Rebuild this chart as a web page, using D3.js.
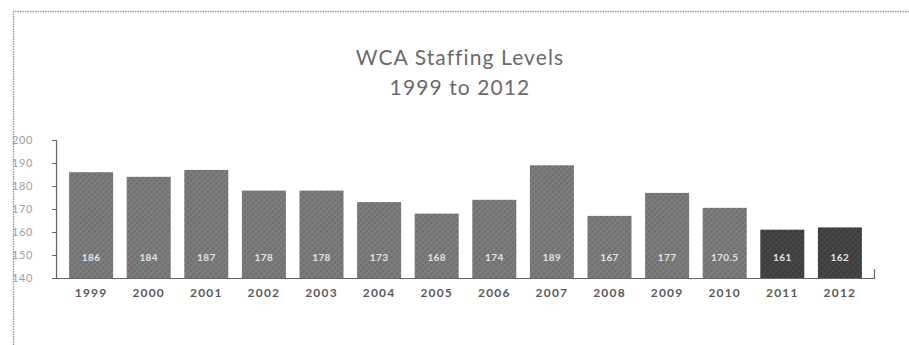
<!DOCTYPE html>
<html>
<head>
<meta charset="utf-8">
<script src="https://cdn.jsdelivr.net/npm/d3@7"></script>
<style>
  html, body { margin: 0; padding: 0; background: #ffffff; }
  svg { display: block; }
</style>
</head>
<body>
<script>
// WCA staffing levels, one bar per year
const years = ["1999", "2000", "2001", "2002", "2003", "2004", "2005",
               "2006", "2007", "2008", "2009", "2010", "2011", "2012"];
const staff = [186, 184, 187, 178, 178, 173, 168, 174, 189, 167, 177, 170.5, 161, 162];
const valueLabels = ["186", "184", "187", "178", "178", "173", "168",
                     "174", "189", "167", "177", "170.5", "161", "162"];
const yTicks = [140, 150, 160, 170, 180, 190, 200];
const titleLines = ["WCA Staffing Levels", "1999 to 2012"];
const recentYears = ["2011", "2012"];

const W = 909, H = 345;
const svg = d3.select("body").append("svg")
  .attr("width", W).attr("height", H);

// halftone-like crosshatch fills for the bars
const defs = svg.append("defs");
function hatch(id, base, dark, light) {
  const p = defs.append("pattern")
    .attr("id", id)
    .attr("patternUnits", "userSpaceOnUse")
    .attr("width", 4).attr("height", 4)
    .attr("patternTransform", "rotate(45)");
  p.append("rect").attr("width", 4).attr("height", 4).attr("fill", base);
  p.append("rect").attr("width", 4).attr("height", 1.2).attr("fill", dark);
  p.append("rect").attr("width", 1.2).attr("height", 4).attr("fill", light);
}
hatch("hatchMid", "#777777", "#6a6a6a", "#828282");
hatch("hatchDark", "#414141", "#373737", "#4a4a4a");

// frame: dotted rule along the top and left edges
svg.append("path")
  .attr("d", `M13.5,${H} V11.5 H${W}`)
  .attr("fill", "none")
  .attr("stroke", "#9a9a9a")
  .attr("stroke-width", 1.5)
  .attr("stroke-dasharray", "1.5,1");

// title
svg.append("g").selectAll("text")
  .data(titleLines)
  .join("text")
  .attr("x", 460)
  .attr("y", (d, i) => 65 + i * 30)
  .attr("text-anchor", "middle")
  .attr("font-family", "Lato, 'Open Sans', sans-serif")
  .attr("font-size", 21)
  .attr("letter-spacing", 1.1)
  .attr("fill", "#6a6a6a")
  .text(d => d);

const x = d3.scaleBand()
  .domain(years)
  .range([57, 874])
  .paddingInner(0.236)
  .paddingOuter(0.21);

const y = d3.scaleLinear()
  .domain([140, 200])
  .range([278, 140]);

// bars
svg.append("g").selectAll("rect")
  .data(years)
  .join("rect")
  .attr("x", d => x(d))
  .attr("width", x.bandwidth())
  .attr("y", (d, i) => y(staff[i]))
  .attr("height", (d, i) => y(140) - y(staff[i]))
  .attr("fill", d => recentYears.includes(d) ? "url(#hatchDark)" : "url(#hatchMid)");

// value labels inside the bars
svg.append("g").selectAll("text")
  .data(years)
  .join("text")
  .attr("x", d => x(d) + x.bandwidth() / 2)
  .attr("y", 261)
  .attr("text-anchor", "middle")
  .attr("font-family", "Lato, 'Open Sans', sans-serif")
  .attr("font-weight", "bold")
  .attr("font-size", 10)
  .attr("letter-spacing", 0.4)
  .attr("fill", "#e4e4e4")
  .text((d, i) => valueLabels[i]);

// y axis
const yAxis = svg.append("g")
  .attr("transform", "translate(56,0)")
  .call(d3.axisLeft(y).tickValues(yTicks).tickSize(4).tickPadding(19));
yAxis.select(".domain").attr("stroke", "#666").attr("stroke-width", 1.2);
yAxis.selectAll(".tick line").attr("stroke", "#666");
yAxis.selectAll(".tick text")
  .attr("font-family", "Lato, 'Open Sans', sans-serif")
  .attr("font-size", 11)
  .attr("letter-spacing", 0.6)
  .attr("fill", "#a0a0a0");

// x axis
const xAxis = svg.append("g")
  .attr("transform", "translate(0,278)")
  .call(d3.axisBottom(x).tickSize(0).tickPadding(10));
xAxis.select(".domain")
  .attr("d", "M56,0.5 H874.5 V-9")
  .attr("stroke", "#666")
  .attr("stroke-width", 1.2);
xAxis.selectAll(".tick text")
  .attr("font-family", "Lato, 'Open Sans', sans-serif")
  .attr("font-weight", "bold")
  .attr("font-size", 12)
  .attr("letter-spacing", 1.2)
  .attr("fill", "#5a5a5a");
</script>
</body>
</html>
